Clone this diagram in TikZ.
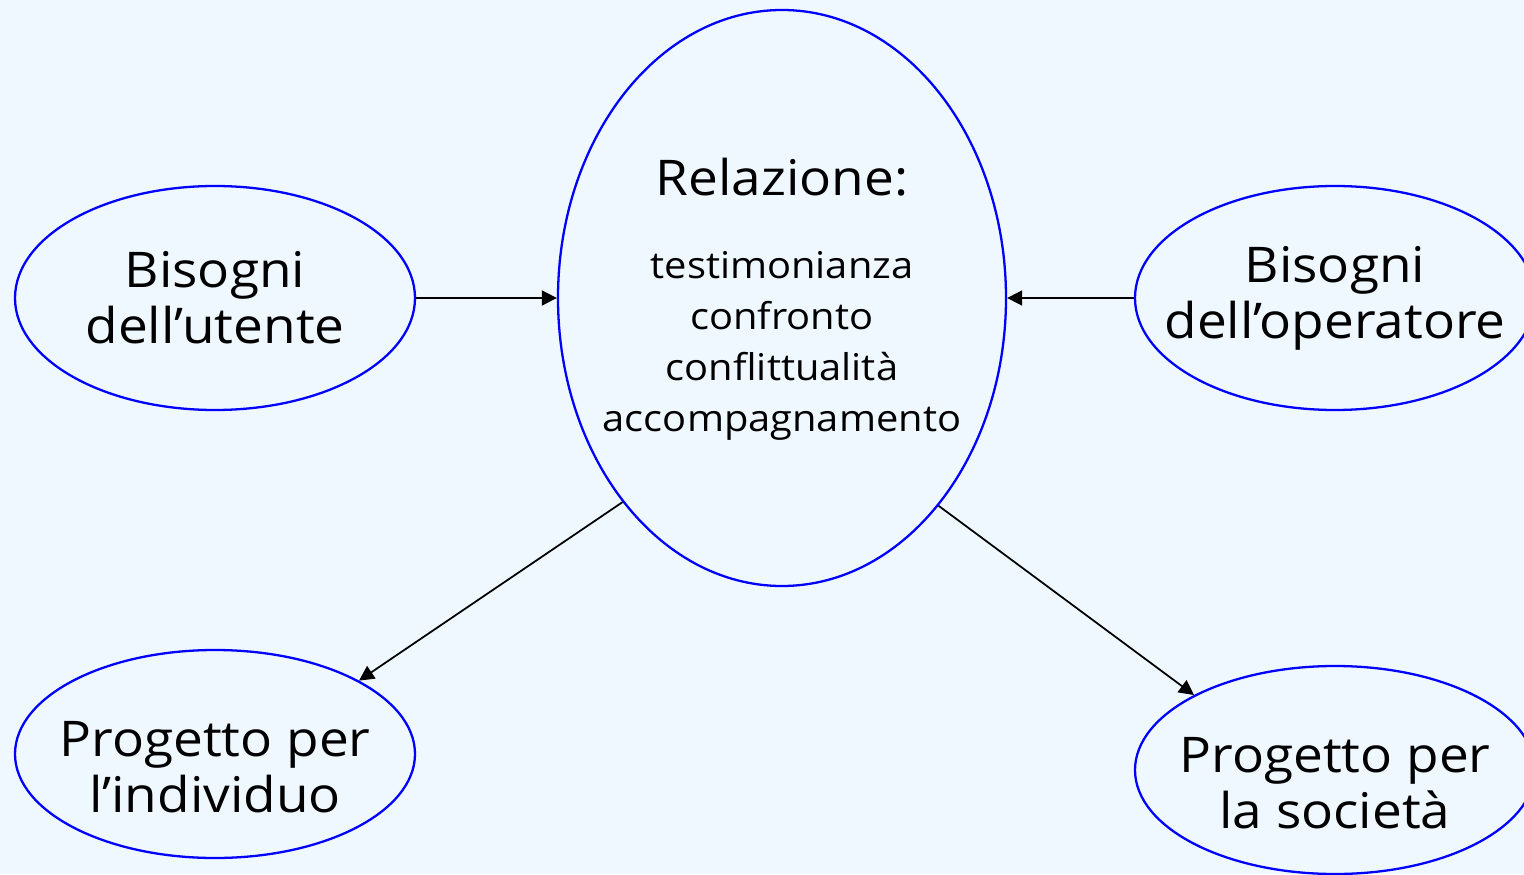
\documentclass[tikz,border=0pt]{standalone}
\usepackage{fontspec}
\setmainfont[FakeStretch=1.08]{Open Sans}
\usetikzlibrary{arrows.meta}
\usetikzlibrary{positioning}
\usetikzlibrary{shapes.geometric}
\definecolor{sfondo}{RGB}{240,248,255}

\begin{document}
\begin{tikzpicture}[
    bolla/.style={ellipse, draw=blue, line width=1.3pt, minimum width=8cm, minimum height=4.48cm, inner sep=0pt},
    testo/.style={align=center, font=\fontsize{28}{32}\selectfont},
    freccia/.style={-{Triangle[length=8.5pt,width=8.5pt]}, line width=1pt}
]
    \fill [sfondo] (0,0) rectangle (30.48,17.48);
    \useasboundingbox (0,0) rectangle (30.48,17.48);
    \node [bolla] (utente) at (4.30,11.52) {};
    \node [bolla] (operatore) at (26.70,11.52) {};
    \node [bolla, minimum width=8.96cm, minimum height=11.52cm] (relazione) at (15.64,11.52) {};
    \node [bolla, minimum height=4.16cm] (individuo) at (4.30,2.40) {};
    \node [bolla, minimum height=4.16cm] (societa) at (26.70,2.08) {};
    \node [testo] (t-utente) at (utente) {Bisogni\\dell’utente};
    \node [testo] (t-operatore) at (operatore) {Bisogni\\dell’operatore};
    \node [testo] (titolo) at (15.64,13.94) {Relazione:};
    \node [testo, font=\fontsize{21}{29}\selectfont] (voci) at (15.64,10.56) {testimonianza\\confronto\\conflittualità\\accompagnamento};
    \node [testo] (t-individuo) at (4.30,2.14) {Progetto per\\l’individuo};
    \node [testo] (t-societa) at (26.70,1.82) {Progetto per\\la società};
    \draw [freccia] (utente) -- (relazione);
    \draw [freccia] (operatore) -- (relazione);
    \draw [freccia] (relazione.232.6) -- (individuo.27.4);
    \draw [freccia] (relazione.307.6) -- (societa.152.2);
\end{tikzpicture}
\end{document}
